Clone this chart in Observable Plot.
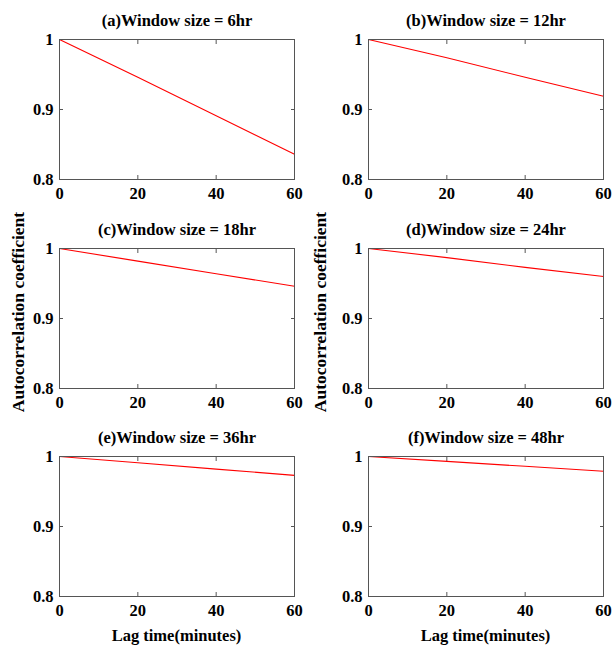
<!DOCTYPE html>
<html>
<head>
<meta charset="utf-8">
<script src="https://cdn.jsdelivr.net/npm/d3@7"></script>
<script src="https://cdn.jsdelivr.net/npm/@observablehq/plot@0.6"></script>
<style>
  html, body { margin: 0; padding: 0; background: #fff; }
  #wrap { position: relative; width: 613px; height: 645px; font-family: "Liberation Serif", "Times New Roman", serif; font-weight: bold; }
  .panel { position: absolute; }
  .lab { position: absolute; font-size: 16.5px; white-space: nowrap; color: #000; }
  .ylab { font-size: 17.5px; }
</style>
</head>
<body>
<div id="wrap"></div>
<script>
// ---- data ----
const lagMinutes = [0, 20, 40, 60];
const titles = [
  "(a)Window size = 6hr", "(b)Window size = 12hr",
  "(c)Window size = 18hr", "(d)Window size = 24hr",
  "(e)Window size = 36hr", "(f)Window size = 48hr"
];
const acf6hr  = [1, 0.946, 0.891, 0.836];
const acf12hr = [1, 0.974, 0.946, 0.919];
const acf18hr = [1, 0.982, 0.964, 0.946];
const acf24hr = [1, 0.987, 0.973, 0.960];
const acf36hr = [1, 0.991, 0.982, 0.973];
const acf48hr = [1, 0.993, 0.986, 0.979];
const seriesList = [acf6hr, acf12hr, acf18hr, acf24hr, acf36hr, acf48hr];
const xTicks = [0, 20, 40, 60];
const yTicks = [0.8, 0.9, 1];
const yLabel = "Autocorrelation coefficient";
const xLabel = "Lag time(minutes)";

// ---- layout ----
const wrap = document.getElementById("wrap");
const colLeft = [0, 306];
const colMarginLeft = [59, 62];
const colWidth = [306, 307];
const rowTop = [0, 209, 417];

seriesList.forEach((vals, i) => {
  const col = i % 2, row = Math.floor(i / 2);
  const data = lagMinutes.map((x, k) => ({x, y: vals[k]}));
  const chart = Plot.plot({
    width: colWidth[col],
    height: 209,
    marginLeft: colMarginLeft[col],
    marginRight: colWidth[col] - colMarginLeft[col] - 235,
    marginTop: 39,
    marginBottom: 30,
    style: {fontFamily: '"Liberation Serif", "Times New Roman", serif', fontWeight: "bold", fontSize: "16px", color: "#000", background: "transparent"},
    x: {domain: [0, 60]},
    y: {domain: [0.8, 1]},
    marks: [
      Plot.axisX([20, 40], {anchor: "bottom", tickSize: -4, text: null, label: null, stroke: "#555"}),
      Plot.axisX([20, 40], {anchor: "top", tickSize: -4, text: null, label: null, stroke: "#555"}),
      Plot.axisY([0.9], {anchor: "left", tickSize: -4, text: null, label: null, stroke: "#555"}),
      Plot.axisY([0.9], {anchor: "right", tickSize: -4, text: null, label: null, stroke: "#555"}),
      Plot.axisX(xTicks, {anchor: "bottom", tickSize: 0, tickPadding: 8, label: null, fill: "#000", fontSize: 16.5, tickFormat: d => String(d)}),
      Plot.axisY(yTicks, {anchor: "left", tickSize: 0, tickPadding: 6, label: null, fill: "#000", fontSize: 16.5, tickFormat: d => String(d)}),
      Plot.line(data, {x: "x", y: "y", stroke: "#ff0000", strokeWidth: 1.1}),
      Plot.frame({stroke: "#555", strokeWidth: 1}),
      Plot.text([titles[i]], {frameAnchor: "top", dy: -19, lineAnchor: "middle", fontSize: 16.5, fontWeight: "bold", fill: "#000"})
    ]
  });
  chart.classList.add("panel");
  chart.style.left = colLeft[col] + "px";
  chart.style.top = rowTop[row] + "px";
  wrap.appendChild(chart);
});

// axis titles
[[18, 312], [320, 312]].forEach(([cx, cy]) => {
  const d = document.createElement("div");
  d.className = "lab ylab";
  d.textContent = yLabel;
  d.style.left = cx + "px";
  d.style.top = cy + "px";
  d.style.transform = "translate(-50%, -50%) rotate(-90deg)";
  wrap.appendChild(d);
});
[[176.5, 636], [485.5, 636]].forEach(([cx, cy]) => {
  const d = document.createElement("div");
  d.className = "lab";
  d.textContent = xLabel;
  d.style.left = cx + "px";
  d.style.top = cy + "px";
  d.style.transform = "translate(-50%, -50%)";
  wrap.appendChild(d);
});
</script>
</body>
</html>
